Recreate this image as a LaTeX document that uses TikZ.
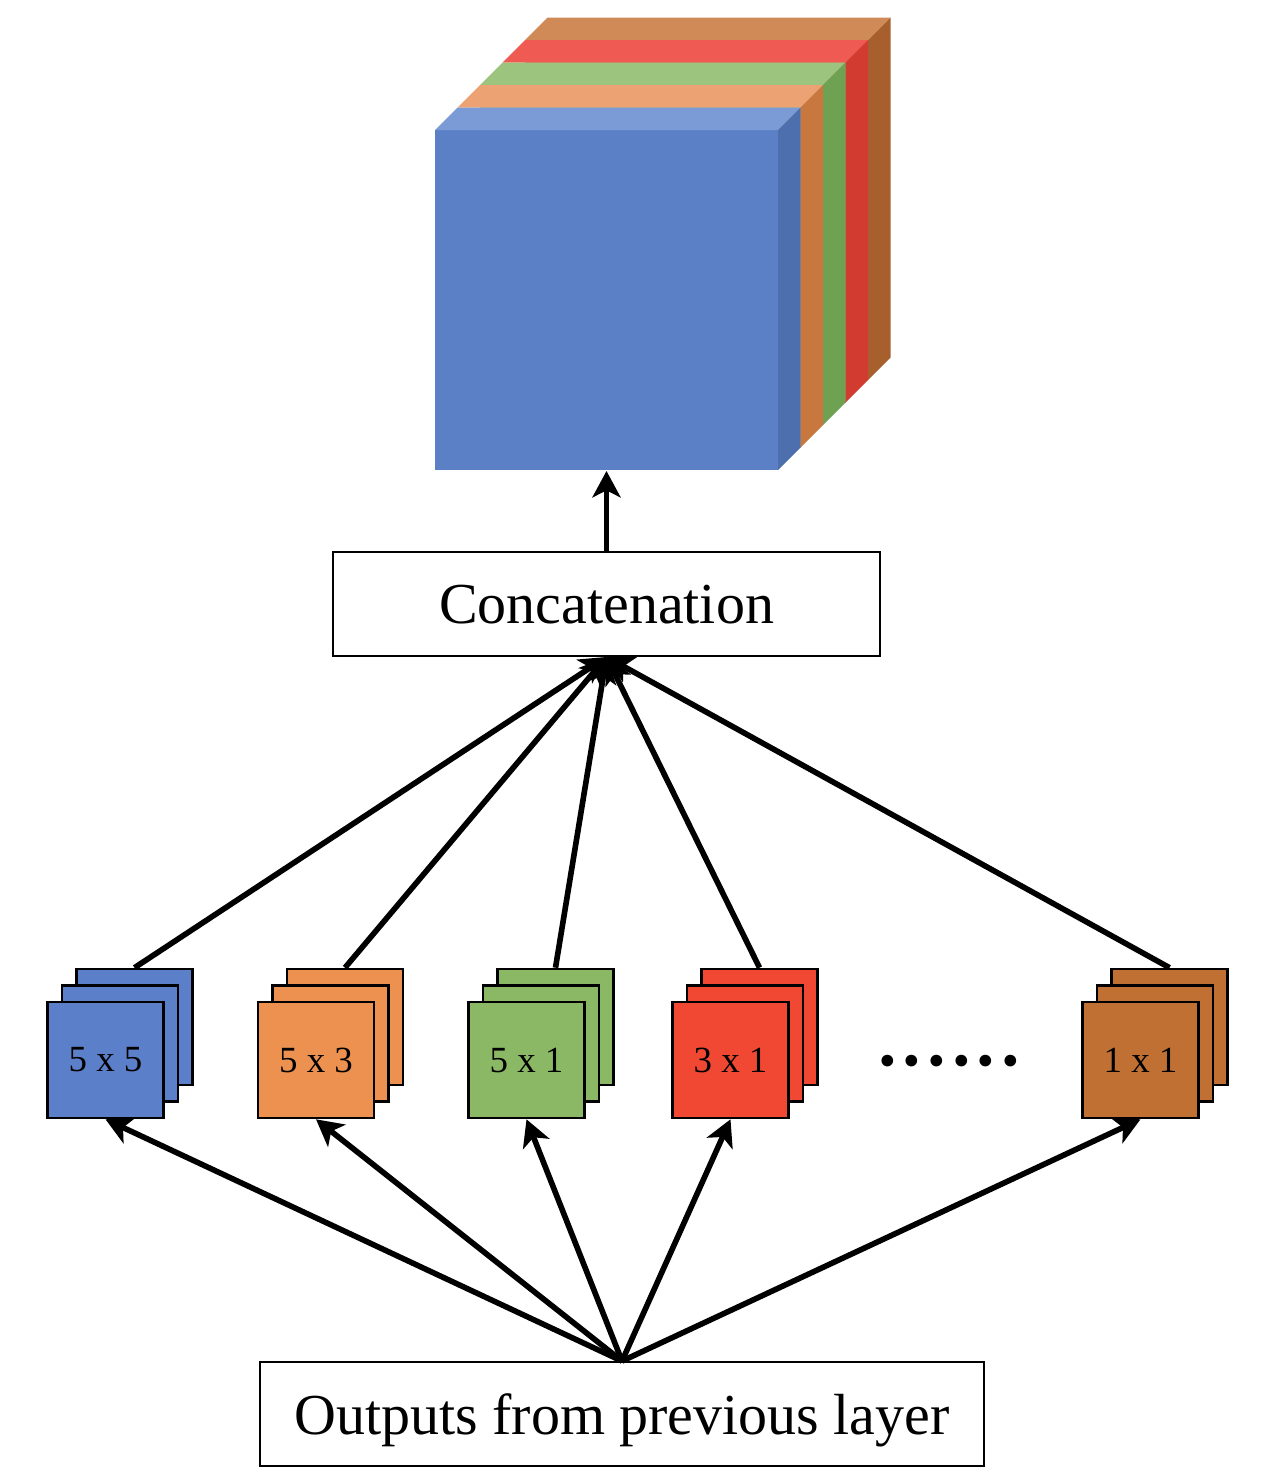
\documentclass[tikz,border=0pt]{standalone}
\usepackage{fontspec}
\setmainfont{Liberation Serif}
\usetikzlibrary{arrows.meta}
\definecolor{bluF}{HTML}{5C80C6}
\definecolor{bluT}{HTML}{7B9BD6}
\definecolor{bluR}{HTML}{4D6FAD}
\definecolor{oraT}{HTML}{ECA272}
\definecolor{oraR}{HTML}{C8773F}
\definecolor{greT}{HTML}{9CC47F}
\definecolor{greR}{HTML}{6EA152}
\definecolor{redT}{HTML}{EF5B52}
\definecolor{redR}{HTML}{D23B30}
\definecolor{broT}{HTML}{D08A58}
\definecolor{broR}{HTML}{A85F2E}
\definecolor{sqBlue}{HTML}{5B7FC8}
\definecolor{sqOrange}{HTML}{EC914F}
\definecolor{sqGreen}{HTML}{8AB864}
\definecolor{sqRed}{HTML}{F04832}
\definecolor{sqBrown}{HTML}{C07033}
\begin{document}
\begin{tikzpicture}[x=0.02cm,y=-0.02cm,
  sq/.style={draw=black, line width=1.5pt, minimum width=2.32cm, minimum height=2.32cm, inner sep=0pt,
             font=\fontsize{21}{21}\selectfont, text=black},
  boxnode/.style={draw=black, line width=1.1pt, minimum height=2.08cm, inner sep=0pt, text depth=0pt,
             font=\fontsize{33}{33}\selectfont},
  arr/.style={line width=3.2pt, -{Stealth[length=15pt, width=16pt, inset=4pt]}}]
\useasboundingbox (0,0) rectangle (1262,1478);

% concatenated output volume (back to front)
\foreach \k/\ct/\cf/\cr in {4/broT/broT/broR, 3/redT/redT/redR, 2/greT/greT/greR, 1/oraT/oraT/oraR, 0/bluT/bluF/bluR}{
  \pgfmathsetmacro\o{22.5*\k}
  \fill[\cf] ({435+\o},{130-\o}) rectangle ({778+\o},{470-\o});
  \fill[\ct] ({435+\o},{130-\o}) -- ({457.5+\o},{107.5-\o}) -- ({800.5+\o},{107.5-\o}) -- ({778+\o},{130-\o}) -- cycle;
  \fill[\cr] ({778+\o},{130-\o}) -- ({800.5+\o},{107.5-\o}) -- ({800.5+\o},{447.5-\o}) -- ({778+\o},{470-\o}) -- cycle;
}
\coordinate (cubebot) at (606.5,471);

% boxes
\node[boxnode, minimum width=10.94cm] (concat) at (606.5,604) {Concatenation};
\node[boxnode, minimum width=14.48cm] (outputs) at (622,1414) {Outputs from previous layer};

% filter stacks
\foreach \n/\xx/\col/\lab in {a/105.5/sqBlue/{5 x 5}, b/316/sqOrange/{5 x 3}, c/526.5/sqGreen/{5 x 1}, d/730.5/sqRed/{3 x 1}, e/1140.5/sqBrown/{1 x 1}}{
  \node[sq, fill=\col] (\n3) at ({\xx+29},1027) {};
  \node[sq, fill=\col] (\n2) at ({\xx+14.5},1043.5) {};
  \node[sq, fill=\col] (\n1) at (\xx,1060) {\lab};
}

\node[font=\fontsize{56}{56}\selectfont, anchor=base, inner sep=0pt] (dots) at (949,1065) {......};

% arrows
\draw[arr] (concat.north) -- (cubebot);
\foreach \n in {a,b,c,d,e}{
  \draw[arr] (\n3.north) -- (concat.south);
  \draw[arr] (outputs.north) -- (\n1.south);
}
\end{tikzpicture}
\end{document}
